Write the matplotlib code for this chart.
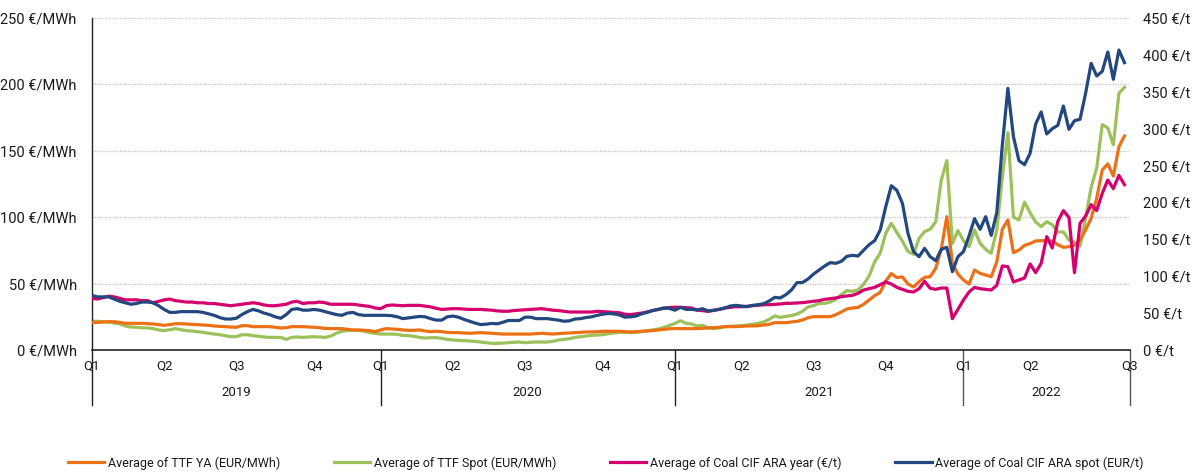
import matplotlib
matplotlib.use("Agg")
import matplotlib.pyplot as plt
import matplotlib.transforms as mtransforms

plt.rcParams['font.family'] = ['Roboto', 'DejaVu Sans']

# ---------------- data (weekly, Jan 2019 -> Jul 2022) ----------------
ttf_ya = [
    20.6, 20.8, 21.1, 21.3, 21.3, 20.8, 20.1, 20.1, 20.1, 20.1, 19.8, 19.6, 19.1, 18.6, 19.1, 19.8, 19.8, 19.6, 19.3, 19.1,
    18.8, 18.6, 18.1, 17.8, 17.6, 17.3, 17.1, 18.3, 18.3, 17.6, 17.6, 17.6, 17.6, 17.1, 16.6, 16.8, 17.6, 17.6, 17.6, 17.3,
    17.1, 16.8, 16.3, 16.1, 16.1, 16.1, 15.6, 15.1, 15.1, 14.8, 14.6, 13.8, 15.1, 16.1,
    15.8, 15.6, 15.1, 14.8, 14.8, 15.1, 14.3, 13.8, 14.1, 13.8, 13.3, 13.1, 13.1, 12.8, 12.6, 12.8, 13.1, 12.8, 12.6, 12.3,
    12.0, 12.0, 12.0, 12.0, 12.0, 12.0, 12.3, 12.6, 12.3, 12.0, 12.3, 12.6, 12.8, 13.1, 13.3, 13.6, 13.6, 13.8, 14.1, 14.1,
    14.1, 14.1, 13.8, 13.6, 13.8, 14.1, 14.3, 14.6, 15.1, 15.5, 16.0, 16.2,
    16.1, 16.1, 16.1, 16.1, 16.3, 16.6, 16.8, 17.1, 17.6, 17.6, 17.6, 17.8, 18.1, 18.1, 18.3, 18.8, 19.3, 20.6, 20.6, 20.6,
    21.1, 21.6, 22.6, 24.3,
    25.1, 25.1, 25.1, 25.1, 26.6, 28.6, 30.9, 31.6, 32.1, 34.4, 37.7, 40.9, 43.4, 52.0, 57.5, 54.5, 55.0, 49.7, 47.4, 51.5,
    54.7, 55.2, 61.5, 76.0, 100.4,
    65.3, 57.2, 52.7, 49.7, 60.2, 57.7, 56.5, 55.2, 66.3, 90.9, 97.9, 73.3, 75.3, 78.8, 80.1, 82.1, 82.3, 82.3, 82.1, 79.3,
    77.3, 77.8, 78.8, 82.8, 90.4, 99.1, 114.2, 135.5, 140.1, 131.0, 153.1, 161.1,
]

ttf_spot = [
    21.6, 21.6, 21.3, 21.1, 20.3, 19.6, 18.1, 17.3, 17.1, 16.8, 16.6, 16.1, 15.1, 14.6, 15.3, 16.1, 15.3, 14.6, 14.3, 13.8,
    13.3, 12.6, 12.0, 11.5, 10.8, 10.0, 10.0, 11.5, 11.5, 10.8, 10.3, 9.8, 9.5, 9.5, 9.5, 8.0, 9.5, 9.8, 9.5, 9.8,
    10.0, 9.8, 9.5, 10.5, 12.6, 14.1, 14.6, 14.8, 14.8, 14.3, 13.1, 12.6, 12.0, 12.0,
    12.0, 11.8, 11.0, 10.8, 10.3, 9.5, 9.0, 9.3, 9.3, 8.8, 8.0, 7.5, 7.3, 7.0, 6.8, 6.5, 6.0, 5.5, 5.0, 5.0,
    5.2, 5.5, 5.8, 6.0, 5.5, 5.8, 6.0, 6.0, 6.0, 6.5, 7.5, 8.0, 8.5, 9.5, 10.0, 10.5, 11.0, 11.3, 11.5, 12.3,
    12.8, 13.3, 13.3, 13.1, 13.3, 13.8, 14.6, 15.1, 15.8, 17.0, 18.5, 20.0,
    22.1, 20.1, 19.6, 18.1, 18.6, 16.8, 16.1, 16.6, 17.6, 17.8, 18.1, 18.3, 18.8, 19.3, 20.1, 21.1, 23.1, 25.6, 24.6, 25.3,
    25.9, 27.1, 29.1, 32.4,
    33.4, 35.1, 35.1, 36.1, 38.2, 41.7, 44.7, 44.2, 45.2, 49.4, 55.7, 66.5, 72.8, 88.0, 95.4, 88.5, 82.0, 74.3, 72.0, 84.1,
    89.1, 90.9, 96.6, 128.0, 142.6,
    80.3, 89.9, 82.3, 77.8, 90.4, 80.3, 75.8, 72.8, 90.4, 130.5, 163.7, 100.0, 97.9, 111.4, 103.4, 96.4, 92.9, 96.6, 94.4, 88.9,
    88.9, 82.8, 81.3, 78.3, 99.1, 122.5, 137.0, 169.7, 167.2, 154.6, 193.3, 197.8,
]

coal_year = [
    70, 69, 71, 73, 72, 70, 68, 68, 68, 67, 67, 64, 66, 68, 69, 67, 66, 65, 65, 64,
    64, 63, 63, 62, 61, 60, 61, 62, 63, 64, 63, 61, 60, 60, 61, 62, 65, 66, 63, 64,
    64, 65, 64, 62, 62, 62, 62, 62, 61, 60, 59, 57, 56, 60,
    61, 60.5, 60, 60.5, 60.5, 60.5, 59.5, 58.5, 56.5, 55, 55.5, 56, 56, 55.5, 55, 55, 55, 54.5, 54, 53,
    52.5, 52.5, 53.5, 54, 54.5, 55, 55.5, 56, 55, 54, 53.5, 52.5, 51.5, 51.5, 51.5, 51.5, 51.5, 52.5, 52, 51.5,
    51, 50.5, 48.5, 48, 49, 50, 51.5, 53.5, 55, 56.5, 57.5, 58,
    57.8, 57.4, 56.9, 54.2, 53.3, 52.4, 53.8, 55.1, 56.9, 57.8, 58.7, 58.7, 59.2, 60.1, 60.5, 61.4, 61.4, 61.9, 62.4, 63.3,
    63.3, 63.7, 64.2, 65.1,
    66.0, 66.9, 68.7, 69.6, 70.5, 72.3, 73.2, 74.1, 76.8, 81.3, 83.1, 84.9, 88.6, 92.2, 89.5, 84.9, 82.2, 79.5, 78.6, 83.1,
    93.1, 83.6, 82.2, 84.0, 84.0,
    42.5, 55.1, 67.8, 78.6, 84.9, 83.1, 82.2, 81.3, 87.6, 113.9, 113.0, 92.2, 94.9, 97.6, 116.6, 104.8, 117.5, 153.6, 138.3, 174.4,
    188.9, 179.8, 104.8, 171.7, 181.6, 197.0, 188.9, 212.3, 230.4, 218.7, 236.7, 224.1,
]

coal_spot = [
    74, 72, 72, 72, 69, 66, 64, 62, 63, 65, 65, 64, 60, 55, 51, 51, 52, 52, 52, 52,
    51, 49, 47, 44, 42, 42, 43, 48, 52, 55, 53, 50, 48, 45, 43, 48, 55, 56, 54, 54,
    55, 54, 52, 50, 48, 47, 50, 51, 48, 47, 47, 47, 47, 47,
    46.5, 45, 42.5, 43.5, 44.5, 45.5, 45, 42.5, 40.5, 40.5, 45, 46, 44.5, 41.5, 39, 36.5, 34.5, 35, 36, 35.5,
    37.5, 40, 40, 40, 44.5, 44.5, 42.5, 42.5, 42.5, 41.5, 40.5, 39, 39.5, 42, 42.5, 44, 45, 47, 48.5, 49.5,
    49, 47.5, 44.5, 45, 46, 49, 51, 53.5, 55, 57, 56.5, 54,
    57.8, 55.1, 55.1, 54.2, 56.0, 52.9, 53.8, 55.1, 56.9, 59.6, 60.5, 59.6, 58.7, 60.5, 61.4, 62.8, 66.4, 71.4, 70.5, 75.0,
    81.3, 91.3, 91.5, 96.2,
    103.0, 108.4, 113.9, 118.4, 117.5, 120.2, 127.0, 128.3, 127.4, 135.1, 142.8, 148.2, 162.6, 194.3, 222.7, 216.4, 198.8, 158.1, 133.3, 126.5,
    137.8, 126.5, 121.1, 136.4, 139.2,
    106.2, 126.5, 133.3, 154.5, 178.0, 163.6, 180.7, 155.4, 186.1, 277.9, 354.7, 289.2, 256.6, 251.2, 266.6, 306.3, 322.6, 292.8, 300.0, 304.5,
    330.7, 299.1, 310.8, 312.7, 347.9, 388.5, 371.4, 377.7, 403.9, 366.9, 406.6, 389.5,
]

series_names = ["Average of TTF YA (EUR/MWh)", "Average of TTF Spot (EUR/MWh)",
                "Average of Coal CIF ARA year (€/t)", "Average of Coal CIF ARA spot (EUR/t)"]

quarter_labels = ['Q1', 'Q2', 'Q3', 'Q4', 'Q1', 'Q2', 'Q3', 'Q4', 'Q1', 'Q2', 'Q3', 'Q4', 'Q1', 'Q2', 'Q3']
quarter_weeks = [0, 13, 26, 40, 52, 65, 78, 92, 105, 117, 130, 143, 157, 169, 187]
year_labels = ['2019', '2020', '2021', '2022']
year_bounds = [0, 52, 105, 157, 187]

left_ticks = [0, 50, 100, 150, 200, 250]
right_ticks = [0, 50, 100, 150, 200, 250, 300, 350, 400, 450]

assert len(ttf_ya) == len(ttf_spot) == len(coal_year) == len(coal_spot) == 187

# ---------------- figure ----------------
W, H = 1195, 475
fig = plt.figure(figsize=(W / 100, H / 100), dpi=100)
ax = fig.add_axes([92 / W, 125 / H, 1038 / W, 332 / H])
ax2 = ax.twinx()

c_orange = '#EC7016'
c_green = '#9DC15A'
c_magenta = '#D4006E'
c_blue = '#22487F'
lw = 2.3

weeks = list(range(len(ttf_ya)))
l1, = ax.plot(weeks, ttf_ya, color=c_orange, lw=lw, solid_joinstyle='round', zorder=3)
l2, = ax.plot(weeks, ttf_spot, color=c_green, lw=lw, solid_joinstyle='round', zorder=2)
l3, = ax2.plot(weeks, coal_year, color=c_magenta, lw=lw, solid_joinstyle='round', zorder=2)
l4, = ax2.plot(weeks, coal_spot, color=c_blue, lw=lw, solid_joinstyle='round', zorder=3)

ax.set_xlim(0, 187)
ax.set_ylim(0, 250)
ax2.set_ylim(0, 450)

ax.set_yticks(left_ticks)
ax.set_yticklabels([f"{v} €/MWh" for v in left_ticks])
ax2.set_yticks(right_ticks)
ax2.set_yticklabels([f"{v} €/t" for v in right_ticks])
ax.tick_params(axis='y', length=0, pad=11, labelsize=10.5, colors='#1a1a1a')
ax2.tick_params(axis='y', length=0, pad=9.5, labelsize=10.5, colors='#1a1a1a')
ax.set_xticks([])

ax.yaxis.grid(True, linestyle=(0, (1, 1)), color='#C4C4C4', lw=0.9)
ax.set_axisbelow(True)

for s in ['top', 'right']:
    ax.spines[s].set_visible(False)
for s in ax2.spines.values():
    s.set_visible(False)
ax.spines['left'].set_color('#222222')
ax.spines['left'].set_linewidth(1.0)
ax.spines['bottom'].set_color('#222222')
ax.spines['bottom'].set_linewidth(1.2)

trans = mtransforms.blended_transform_factory(ax.transData, ax.transAxes)
div_len = 55 / 332
for k, w in enumerate(year_bounds):
    col = '#222222' if k < 3 else '#555555'
    ax.plot([w, w], [0, -div_len], transform=trans, clip_on=False, color=col, lw=1.0)

for lab, w in zip(quarter_labels, quarter_weeks):
    ax.text(w, -16 / 332, lab, transform=trans, ha='center', va='center', fontsize=9.5, color='#1a1a1a')
for k, lab in enumerate(year_labels):
    mid = (year_bounds[k] + year_bounds[k + 1]) / 2
    ax.text(mid, -43 / 332, lab, transform=trans, ha='center', va='center', fontsize=9.5, color='#1a1a1a')

leg = fig.legend([l1, l2, l3, l4], series_names, loc='center left',
                 bbox_to_anchor=(68 / W, 12 / H), ncol=4, frameon=False,
                 handlelength=2.9, handletextpad=0.3, columnspacing=4.3,
                 borderpad=0, borderaxespad=0, fontsize=9)
for t in leg.get_texts():
    t.set_color('#1a1a1a')

fig.savefig('out.png', dpi=100)
